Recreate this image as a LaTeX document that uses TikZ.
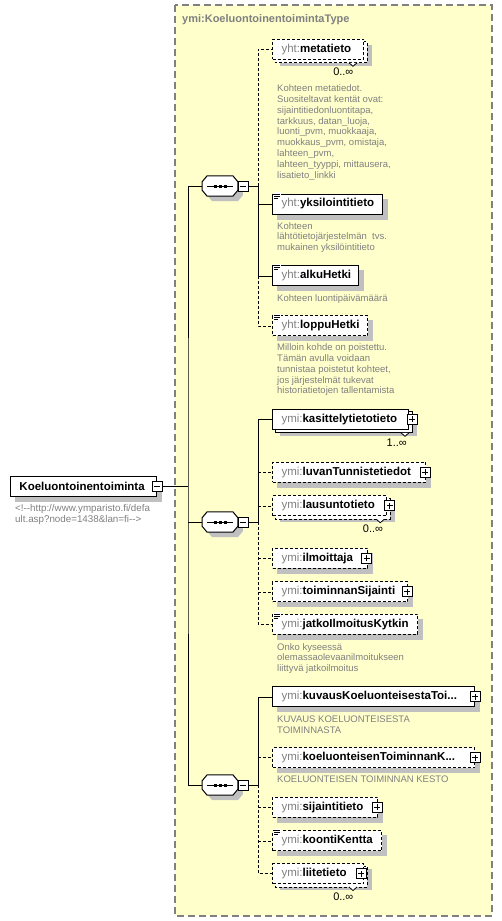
\documentclass[tikz,border=0pt]{standalone}
\usepackage{fontspec}
\setmainfont{Liberation Sans}
\usetikzlibrary{calc}
\definecolor{bgy}{RGB}{255,255,204}
\definecolor{brd}{RGB}{128,128,128}
\definecolor{shd}{RGB}{192,192,192}
\definecolor{dsc}{RGB}{128,128,128}
\definecolor{pfx}{RGB}{128,128,128}
\pgfdeclarelayer{bgl}\pgfdeclarelayer{shadl}\pgfdeclarelayer{backl}
\pgfsetlayers{bgl,shadl,backl,main}
\newcommand\en[3]{\makebox[#1pt][l]{{\mdseries\color{pfx}#2}#3}}
\newcommand\octo[2]{\path[#2] ([xshift=5pt]#1.north west) -- ([xshift=-5pt]#1.north east) -- ([yshift=-6pt]#1.north east) -- ([yshift=6pt]#1.south east) -- ([xshift=-5pt]#1.south east) -- ([xshift=5pt]#1.south west) -- ([yshift=6pt]#1.south west) -- ([yshift=-6pt]#1.north west) -- cycle;}
\newcommand\seqdeco[1]{%
  \begin{pgfonlayer}{shadl}\begin{scope}[transform canvas={xshift=5pt,yshift=-5pt}]\octo{#1}{fill=shd}\end{scope}\end{pgfonlayer}
  \octo{#1}{draw,fill=white,line width=1pt}
  \draw[line width=1pt] ([xshift=4.5pt]#1.west) -- ([xshift=-5pt]#1.east);
  \fill ([xshift=-6.5pt,yshift=1.5pt]#1.center) rectangle ++(3,3);
  \fill ([xshift=-1.5pt,yshift=1.5pt]#1.center) rectangle ++(3,3);
  \fill ([xshift=3.5pt,yshift=1.5pt]#1.center) rectangle ++(3,3);}
\newcommand\shadowof[1]{\begin{pgfonlayer}{shadl}\fill[shd] ([shift={(5,5)}]#1.north west) rectangle ([shift={(5,5)}]#1.south east);\end{pgfonlayer}}
\newcommand\stackof[2]{\begin{pgfonlayer}{shadl}\fill[shd] ([shift={(8,6)}]#1.north west) rectangle ([shift={(8,6)}]#1.south east);\end{pgfonlayer}%
  \begin{pgfonlayer}{backl}\draw[line width=1pt,fill=white,#2] ([shift={(3,3)}]#1.north west) rectangle ([shift={(3,3)}]#1.south east);\end{pgfonlayer}}
\newcommand\notch[2]{\filldraw[fill=white,line width=0.8pt] ([shift={(#2-4,3)}]#1.south east) -- ([shift={(#2,6.5)}]#1.south east) -- ([shift={(#2+4,3)}]#1.south east);}
\newcommand\simpleicon[1]{\fill[white] ([shift={(1.5,-1.5)}]#1.north west) rectangle ([shift={(8.5,5.5)}]#1.north west);
  \draw[line width=0.8pt] ([shift={(2,0.5)}]#1.north west) -- ++(6,0) ([shift={(2,2.5)}]#1.north west) -- ++(6,0) ([shift={(2,4.5)}]#1.north west) -- ++(4,0);}
\begin{document}
\begin{tikzpicture}[x=1pt,y=-1pt,line width=1pt,
  elem/.style={draw,fill=white,line width=1pt,minimum height=20pt,inner xsep=9pt,inner ysep=0pt,anchor=west,font=\fontsize{11.5}{13}\selectfont\bfseries},
  opt/.style={dash pattern=on 3pt off 2pt},
  desc/.style={anchor=north west,inner sep=0pt,align=left,text=dsc,font=\fontsize{9.5}{10.8}\selectfont},
  mult/.style={inner sep=0pt,font=\fontsize{11}{12}\selectfont},
  pmbox/.style={draw,fill=white,line width=0.8pt,minimum size=10pt,inner sep=0pt},
  plusbox/.style={pmbox,path picture={\draw[line width=0.8pt] ([xshift=-3pt]path picture bounding box.center) -- ([xshift=3pt]path picture bounding box.center) ([yshift=-3pt]path picture bounding box.center) -- ([yshift=3pt]path picture bounding box.center);}},
  minusbox/.style={pmbox,path picture={\draw[line width=0.8pt] ([xshift=-3pt]path picture bounding box.center) -- ([xshift=3pt]path picture bounding box.center);}},
  seqn/.style={minimum width=35.4pt,minimum height=20pt,inner sep=0pt}]
\useasboundingbox (0,0) rectangle (502,921);
\begin{pgfonlayer}{bgl}
\fill[bgy] (175,5) rectangle (492,916);
\draw[brd,line width=1.2pt,dash pattern=on 7pt off 4pt] (175,5) rectangle (492,916);
\end{pgfonlayer}
\node[anchor=west,inner sep=0pt,text=brd,font=\fontsize{11}{13}\selectfont\bfseries] (title) at (182,20) {ymi:KoeluontoinentoimintaType};

% root
\node[elem] (root) at (10,486) {\makebox[128pt][l]{Koeluontoinentoiminta}};
\shadowof{root}
\node[minusbox] (rm) at (root.east) {};
\node[desc,font=\fontsize{9.8}{9.8}\selectfont] (rootdesc) at (15,504) {\strut<!-{}-http://www.ymparisto.fi/defa\\ult.asp?node=1438\&lan=fi-{}->};

% sequences
\node[seqn] (s1) at (220,186) {};
\node[seqn] (s2) at (220,522) {};
\node[seqn] (s3) at (220,785) {};
\seqdeco{s1}\seqdeco{s2}\seqdeco{s3}
\node[minusbox] (sm1) at ([xshift=5pt]s1.east) {};
\node[minusbox] (sm2) at ([xshift=5pt]s2.east) {};
\node[minusbox] (sm3) at ([xshift=5pt]s3.east) {};

% branch 1 elements
\node[elem,opt] (meta) at (272,49.3) {\en{73}{yht:}{metatieto}};
\stackof{meta}{opt}\notch{meta}{-11}
\node[mult] (m1) at (343.3,71.7) {0..∞};
\node[desc] (d1) at (277,84) {\strut Kohteen metatiedot.\\Suositeltavat kentät ovat:\\sijaintitiedonluontitapa,\\tarkkuus, datan\_luoja,\\luonti\_pvm, muokkaaja,\\muokkaus\_pvm, omistaja,\\lahteen\_pvm,\\lahteen\_tyyppi, mittausera,\\lisatieto\_linkki};

\node[elem] (yksi) at (272,204) {\en{92}{yht:}{yksilointitieto}};
\shadowof{yksi}\simpleicon{yksi}
\node[desc] (d2) at (277,221.4) {\strut Kohteen\\lähtötietojärjestelmän\ \ tvs.\\mukainen yksilöintitieto};

\node[elem] (alku) at (272,275.8) {\en{68}{yht:}{alkuHetki}};
\shadowof{alku}\simpleicon{alku}
\node[desc] (d3) at (277,293.4) {\strut Kohteen luontipäivämäärä};

\node[elem,opt] (loppu) at (272,325.8) {\en{77}{yht:}{loppuHetki}};
\shadowof{loppu}\simpleicon{loppu}
\node[desc] (d4) at (277,343) {\strut Milloin kohde on poistettu.\\Tämän avulla voidaan\\tunnistaa poistetut kohteet,\\jos järjestelmät tukevat\\historiatietojen tallentamista};

% branch 2 elements
\node[elem] (kasit) at (272,419.3) {\en{118}{ymi:}{kasittelytietotieto}};
\stackof{kasit}{}\notch{kasit}{-4}
\node[plusbox] (pk) at ([xshift=3.4pt]kasit.east) {};
\node[mult] (m2) at (396.7,442.7) {1..∞};

\node[elem,opt] (luvan) at (272,472.2) {\en{135}{ymi:}{luvanTunnistetiedot}};
\shadowof{luvan}
\node[plusbox] (pl) at ([xshift=-0.7pt]luvan.east) {};

\node[elem,opt] (lausu) at (272,505.7) {\en{96}{ymi:}{lausuntotieto}};
\stackof{lausu}{opt}\notch{lausu}{-6.7}
\node[plusbox] (pa) at ([xshift=2.8pt]lausu.east) {};
\node[mult] (m3) at (373,529) {0..∞};

\node[elem,opt] (ilmo) at (272,558.3) {\en{77}{ymi:}{ilmoittaja}};
\shadowof{ilmo}
\node[plusbox] (pi) at ([xshift=-1.4pt]ilmo.east) {};

\node[elem,opt] (toimi) at (272,591.7) {\en{117}{ymi:}{toiminnanSijainti}};
\shadowof{toimi}
\node[plusbox] (pt) at ([xshift=-0.6pt]toimi.east) {};

\node[elem,opt] (jatko) at (272,624.3) {\en{127}{ymi:}{jatkoIlmoitusKytkin}};
\shadowof{jatko}\simpleicon{jatko}
\node[desc] (d5) at (277,642.4) {\strut Onko kyseessä\\olemassaolevaanilmoitukseen\\liittyvä jatkoilmoitus};

% branch 3 elements
\node[elem] (kuvaus) at (272,696.7) {\en{184}{ymi:}{kuvausKoeluonteisestaToi...}};
\shadowof{kuvaus}
\node[plusbox] (pu) at (kuvaus.east) {};
\node[desc] (d6) at (277,714.7) {\strut KUVAUS KOELUONTEISESTA\\TOIMINNASTA};

\node[elem,opt] (koelu) at (272,757.5) {\en{184}{ymi:}{koeluonteisenToiminnanK...}};
\shadowof{koelu}
\node[plusbox] (po) at (koelu.east) {};
\node[desc] (d7) at (277,775) {\strut KOELUONTEISEN TOIMINNAN KESTO};

\node[elem,opt] (sijai) at (272,807.3) {\en{87}{ymi:}{sijaintitieto}};
\shadowof{sijai}
\node[plusbox] (ps) at ([xshift=-0.7pt]sijai.east) {};

\node[elem,opt] (koont) at (272,840.7) {\en{91}{ymi:}{koontiKentta}};
\shadowof{koont}\simpleicon{koont}

\node[elem,opt] (liite) at (272,873.5) {\en{73}{ymi:}{liitetieto}};
\stackof{liite}{opt}\notch{liite}{-11}
\node[plusbox] (pe) at ([xshift=-3pt]liite.east) {};
\node[mult] (m4) at (343.3,896.7) {0..∞};

% connectors
\coordinate (j) at (188,486);
\coordinate (b1) at (258,186);
\coordinate (b2) at (258,522);
\coordinate (b3) at (258,785);
\draw (rm.east) -- (j);
\draw (s1.west) -| (j) |- (s3.west);
\draw (s2.west) -- (s2.west -| j);
\draw (sm1.east) -- (b1);
\draw (sm2.east) -- (b2);
\draw (sm3.east) -- (b3);
\draw[opt] (b1) |- (meta.west);
\draw (b1) |- (alku.west);
\draw (yksi.west -| b1) -- (yksi.west);
\draw[opt] (alku.west -| b1) |- (loppu.west);
\draw (b2) |- (kasit.west);
\draw[opt] (luvan.west -| b2) -- (luvan.west);
\draw[opt] (lausu.west -| b2) -- (lausu.west);
\draw[opt] (b2) |- (jatko.west);
\draw[opt] (ilmo.west -| b2) -- (ilmo.west);
\draw[opt] (toimi.west -| b2) -- (toimi.west);
\draw (b3) |- (kuvaus.west);
\draw[opt] (koelu.west -| b3) -- (koelu.west);
\draw[opt] (b3) |- (liite.west);
\draw[opt] (sijai.west -| b3) -- (sijai.west);
\draw[opt] (koont.west -| b3) -- (koont.west);
\end{tikzpicture}
\end{document}
